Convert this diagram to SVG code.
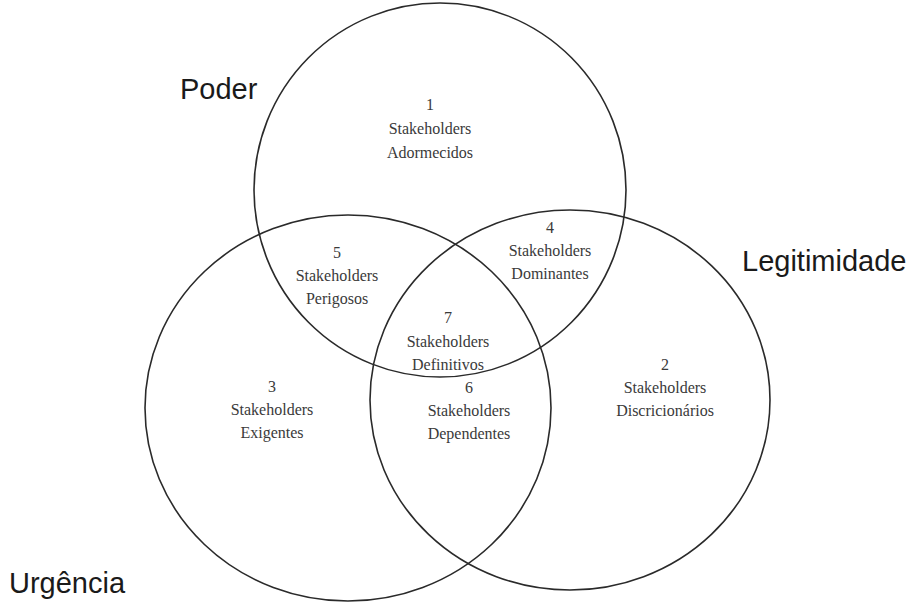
<svg xmlns="http://www.w3.org/2000/svg" width="909" height="603" viewBox="0 0 909 603">
<style>
.c{fill:none;stroke:#2a2a2a;stroke-width:1.6}
.t{font-family:"Liberation Serif",serif;font-size:16px;fill:#3a3a3a;text-anchor:middle}
.s{font-family:"Liberation Sans",Arial,sans-serif;font-size:29px;fill:#1a1a1a}
</style>
<rect width="909" height="603" fill="#fff"/>
<g id="sets">
<ellipse id="poder" class="c" cx="440" cy="190" rx="186" ry="187"/>
<ellipse id="urgencia" class="c" cx="348" cy="408" rx="203" ry="193"/>
<ellipse id="legitimidade" class="c" cx="570" cy="400" rx="200" ry="190"/>
</g>
<g id="labels">
<text class="s" x="180" y="99">Poder</text>
<text class="s" x="742" y="271">Legitimidade</text>
<text class="s" x="9" y="593">Urgência</text>
</g>
<g id="r1"><text class="t" x="430" y="110">1</text><text class="t" x="430" y="134">Stakeholders</text><text class="t" x="430" y="158">Adormecidos</text></g>
<g id="r4"><text class="t" x="550" y="233">4</text><text class="t" x="550" y="256">Stakeholders</text><text class="t" x="550" y="279">Dominantes</text></g>
<g id="r5"><text class="t" x="337" y="258">5</text><text class="t" x="337" y="281">Stakeholders</text><text class="t" x="337" y="304">Perigosos</text></g>
<g id="r7"><text class="t" x="448" y="323">7</text><text class="t" x="448" y="347">Stakeholders</text><text class="t" x="448" y="370">Definitivos</text></g>
<g id="r2"><text class="t" x="665" y="370">2</text><text class="t" x="665" y="393">Stakeholders</text><text class="t" x="665" y="416">Discricionários</text></g>
<g id="r3"><text class="t" x="272" y="392">3</text><text class="t" x="272" y="415">Stakeholders</text><text class="t" x="272" y="438">Exigentes</text></g>
<g id="r6"><text class="t" x="469" y="393">6</text><text class="t" x="469" y="416">Stakeholders</text><text class="t" x="469" y="439">Dependentes</text></g>
</svg>
